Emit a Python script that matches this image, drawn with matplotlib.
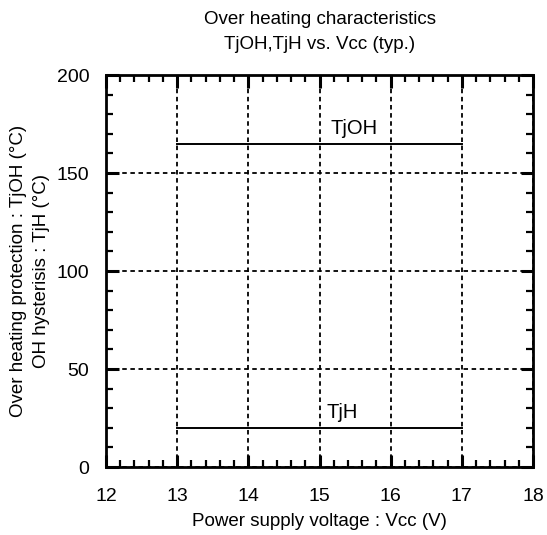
import numpy as np
import matplotlib
matplotlib.use("Agg")
import matplotlib.pyplot as plt
from matplotlib.ticker import MultipleLocator

plt.rcParams['font.family'] = ['Liberation Sans', 'DejaVu Sans']

vcc = [13, 17]
tjoh = [165, 165]
tjh = [20, 20]

fig = plt.figure(figsize=(5.47, 5.35), dpi=100)
ax = fig.add_axes([0.1938, 0.1271, 0.7806, 0.7327])

ax.plot(vcc, tjoh, color='black', lw=1.4)
ax.plot(vcc, tjh, color='black', lw=1.4)
ax.text(15.16, 170, 'TjOH', fontsize=14.5, ha='left', va='baseline')
ax.text(15.10, 25, 'TjH', fontsize=14.5, ha='left', va='baseline')

ax.set_xlim(12, 18)
ax.set_ylim(0, 200)
ax.xaxis.set_major_locator(MultipleLocator(1))
ax.xaxis.set_minor_locator(MultipleLocator(0.2))
ax.yaxis.set_major_locator(MultipleLocator(50))
ax.yaxis.set_minor_locator(MultipleLocator(10))
ax.tick_params(which='both', direction='in', top=True, right=True, labelsize=14)
ax.tick_params(which='major', length=9, width=2.2, pad=15)
ax.tick_params(which='minor', length=5, width=1.6)
ax.tick_params(axis='y', which='major', pad=12)
ax.grid(True, which='major', color='black', linestyle=(0, (2.5, 2)), lw=1.3)
for s in ax.spines.values():
    s.set_linewidth(2)

ax.set_title('Over heating characteristics\nTjOH,TjH vs. Vcc (typ.)', fontsize=13.5, pad=19, linespacing=1.55)
ax.set_xlabel('Power supply voltage : Vcc (V)', fontsize=13.5, labelpad=6)
ax.set_ylabel('Over heating protection : TjOH (°C)\nOH hysterisis : TjH (°C)', fontsize=13.5, labelpad=5, linespacing=1.45)

fig.savefig('out.png', dpi=100)
